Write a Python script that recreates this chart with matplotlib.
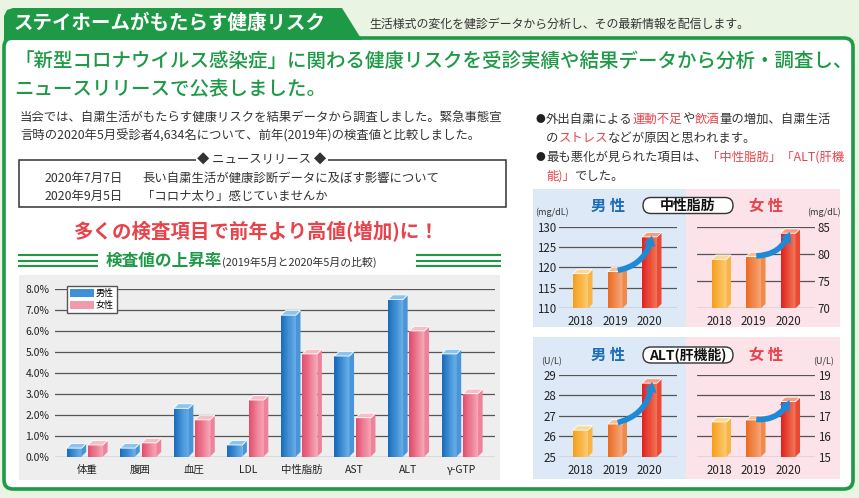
import matplotlib
matplotlib.use('Agg')
import matplotlib.pyplot as plt
import numpy as np
from matplotlib.patches import Polygon, Rectangle, FancyBboxPatch, FancyArrowPatch, Patch
from matplotlib.colors import to_rgb

plt.rcParams['font.family'] = ['Noto Sans CJK JP', 'DejaVu Sans']

W, H = 859, 498

# ---- data ----
items = ['体重', '腹囲', '血圧', 'LDL', '中性脂肪', 'AST', 'ALT', 'γ-GTP']
male_rate = [0.4, 0.4, 2.3, 0.55, 6.75, 4.8, 7.5, 4.9]
female_rate = [0.55, 0.65, 1.75, 2.7, 4.9, 1.85, 6.0, 3.0]
rate_ticks = [0, 1, 2, 3, 4, 5, 6, 7, 8]

years = ['2018', '2019', '2020']
tg_male = [118.5, 119.0, 127.5]
tg_female = [79.0, 79.5, 83.8]
alt_male = [26.3, 26.6, 28.6]
alt_female = [16.7, 16.8, 17.7]
tg_male_ticks = [110, 115, 120, 125, 130]
tg_female_ticks = [70, 75, 80, 85]
alt_male_ticks = [25, 26, 27, 28, 29]
alt_female_ticks = [15, 16, 17, 18, 19]

GREEN = '#1e9a46'
RED = '#e8434a'
TXT = '#333333'

fig = plt.figure(figsize=(W / 100, H / 100), dpi=100, facecolor='#eaf4e3')
bg = fig.add_axes([0, 0, 1, 1])
bg.set_xlim(0, W)
bg.set_ylim(H, 0)
bg.axis('off')
renderer = fig.canvas.get_renderer()


def px_axes(x0, y0, x1, y1):
    a = fig.add_axes([x0 / W, 1 - y1 / H, (x1 - x0) / W, (y1 - y0) / H])
    a.set_facecolor('none')
    for s in a.spines.values():
        s.set_visible(False)
    return a


def mix(c1, c2, t):
    a, b = np.array(to_rgb(c1)), np.array(to_rgb(c2))
    return a + (b - a) * t


def bar3d(ax, x0, h, w, dx, dy, cl, cr, ctop, cside, base=0, n=14):
    for i in range(n):
        ax.add_patch(Rectangle((x0 + w * i / n, base), w / n * 1.05, h - base,
                               color=mix(cl, cr, i / (n - 1)), lw=0, clip_on=False, zorder=3))
    ax.add_patch(Polygon([(x0 + w, base), (x0 + w + dx, base + dy), (x0 + w + dx, h + dy), (x0 + w, h)],
                         closed=True, color=cside, lw=0, clip_on=False, zorder=3))
    ax.add_patch(Polygon([(x0, h), (x0 + w, h), (x0 + w + dx, h + dy), (x0 + dx, h + dy)],
                         closed=True, fc=ctop, ec='white', lw=0.6, clip_on=False, zorder=4))


def runs(x, y, parts, size, weight='normal'):
    for s, c in parts:
        t = bg.text(x, y, s, fontsize=size, color=c, va='center', ha='left', weight=weight)
        x += t.get_window_extent(renderer).width


# ---- header ----
bg.add_patch(FancyBboxPatch((4, 38), 849, 451, boxstyle='round,pad=0,rounding_size=9',
                            fc='white', ec=GREEN, lw=2.6, zorder=1))
bg.add_patch(Polygon([(4, 40), (4, 16), (7, 10), (13, 8), (342, 8), (362, 40)],
                     closed=True, fc=GREEN, ec='none', zorder=2))
bg.text(14, 23, 'ステイホームがもたらす健康リスク', color='white', fontsize=14,
        weight='bold', va='center', zorder=3)
bg.text(369, 24, '生活様式の変化を健診データから分析し、その最新情報を配信します。',
        color=TXT, fontsize=8.6, va='center')

bg.text(14, 62, '「新型コロナウイルス感染症」に関わる健康リスクを受診実績や結果データから分析・調査し、',
        color=GREEN, fontsize=14, va='center', weight='medium', zorder=3)
bg.text(14, 90, 'ニュースリリースで公表しました。', color=GREEN, fontsize=14, va='center',
        weight='medium', zorder=3)

bg.text(20, 117, '当会では、自粛生活がもたらす健康リスクを結果データから調査しました。緊急事態宣',
        color=TXT, fontsize=8.9, va='center', zorder=3)
bg.text(20, 136, '言時の2020年5月受診者4,634名について、前年(2019年)の検査値と比較しました。',
        color=TXT, fontsize=8.9, va='center', zorder=3)

# news box
bg.add_patch(Rectangle((19, 160), 487, 47, fc='none', ec=TXT, lw=1.1, zorder=3))
bg.text(262, 160, '◆ ニュースリリース ◆', color=TXT, fontsize=8.9, ha='center', va='center',
        zorder=4, bbox=dict(fc='white', ec='none', pad=1))
bg.text(45, 178, '2020年7月7日', color=TXT, fontsize=8.9, va='center', zorder=3)
bg.text(142, 178, '長い自粛生活が健康診断データに及ぼす影響について', color=TXT, fontsize=8.9,
        va='center', zorder=3)
bg.text(45, 196, '2020年9月5日', color=TXT, fontsize=8.9, va='center', zorder=3)
bg.text(142, 196, '「コロナ太り」感じていませんか', color=TXT, fontsize=8.9, va='center', zorder=3)

bg.text(257, 232, '多くの検査項目で前年より高値(増加)に！', color=RED, fontsize=14,
        weight='bold', ha='center', va='center', zorder=3)

# sub header with triple lines
for yy in (255, 260.7, 266.4):
    bg.plot([19, 97], [yy, yy], color=GREEN, lw=1.5, zorder=3)
    bg.plot([417, 500], [yy, yy], color=GREEN, lw=1.5, zorder=3)
runs(106, 261, [('検査値の上昇率', GREEN)], 12, weight='bold')
bg.text(222, 262, '(2019年5月と2020年5月の比較)', color=TXT, fontsize=7.8, va='center', zorder=3)

# right column bullets
K = TXT
for yy in (119, 157):
    bg.text(535, yy, '●', color='#222', fontsize=7, va='center', zorder=3)
runs(546, 119, [('外出自粛による', K), ('運動不足', RED), ('や', K), ('飲酒', RED),
                ('量の増加、自粛生活', K)], 8.9)
runs(546, 138, [('の', K), ('ストレス', RED), ('などが原因と思われます。', K)], 8.9)
runs(546, 157, [('最も悪化が見られた項目は、', K), ('「中性脂肪」「ALT(肝機', RED)], 8.9)
runs(546, 176, [('能)」', RED), ('でした。', K)], 8.9)

# ---- main bar chart ----
bg.add_patch(Rectangle((19, 275), 481, 205, fc='#eeeeee', ec='none', zorder=2))
ax = px_axes(55, 289, 495, 456.5)
ax.set_ylim(0, 8)
ax.set_xlim(-0.597, 7.616)
for v in rate_ticks:
    ax.axhline(v, color='#555555', lw=0.9, zorder=1)
ax.set_yticks(rate_ticks)
ax.set_yticklabels([f'{v:.1f}%' for v in rate_ticks], fontsize=7.5, color='#222')
ax.set_xticks(range(len(items)))
ax.set_xticklabels(items, fontsize=7.5, color='#222')
ax.tick_params(length=0, pad=4)
ax.tick_params(axis='x', pad=6)
for i in range(len(items)):
    bar3d(ax, i - 0.38, male_rate[i], 0.28, 0.085, 0.22,
          '#1a6cbd', '#66aee8', '#8cc4f0', '#4a95d8')
    bar3d(ax, i + 0.02, female_rate[i], 0.28, 0.085, 0.22,
          '#e2506f', '#f6a6b5', '#f9bdc8', '#ee8299')
ax.legend(handles=[Patch(fc='#3d90da', ec='none', label='男性'),
                   Patch(fc='#f29aab', ec='none', label='女性')],
          loc='upper left', bbox_to_anchor=(67 / W, 1 - 286 / H), bbox_transform=fig.transFigure,
          fancybox=False, edgecolor='#555', framealpha=1, fontsize=6.5, handlelength=2.6,
          handleheight=1.0, borderpad=0.35, labelspacing=0.25, handletextpad=0.25,
          borderaxespad=0)

# ---- small charts ----
bg.add_patch(Rectangle((533, 189), 153, 138, fc='#dde9f6', ec='none', zorder=2))
bg.add_patch(Rectangle((686, 189), 154, 138, fc='#fbe3e9', ec='none', zorder=2))
bg.add_patch(Rectangle((533, 337), 153, 142, fc='#dde9f6', ec='none', zorder=2))
bg.add_patch(Rectangle((686, 337), 154, 142, fc='#fbe3e9', ec='none', zorder=2))

bar_cols = [('#f5a01a', '#fcc970', '#fdd998', '#f8b545'),
            ('#ec6c20', '#f5a578', '#f9c09c', '#f08a48'),
            ('#e2221e', '#f07454', '#f59c84', '#ea4a35')]


def small_chart(rect, xlim, ylim, ticks, values, right):
    a = px_axes(*rect)
    a.set_xlim(*xlim)
    a.set_ylim(*ylim)
    for v in ticks:
        a.axhline(v, color='#555555', lw=0.9, zorder=1)
    a.set_yticks(ticks)
    a.set_yticklabels([str(v) for v in ticks], fontsize=8.3, color='#222')
    if right:
        a.yaxis.tick_right()
    a.set_xticks(range(len(years)))
    a.set_xticklabels(years, fontsize=8.3, color='#222')
    a.tick_params(length=0, pad=2)
    a.tick_params(axis='x', pad=5)
    span = ylim[1] - ylim[0]
    hpx = (rect[3] - rect[1])
    dy = span / hpx * 4
    for i, v in enumerate(values):
        bar3d(a, i - 0.217, v, 0.435, 0.13, dy * 1.1, *bar_cols[i], base=ylim[0])
    arr = FancyArrowPatch((1.0, values[1] + dy * 0.2), (2.08, values[2] + dy * 1.0),
                          arrowstyle='simple,head_width=9,head_length=7,tail_width=4',
                          connectionstyle='arc3,rad=0.38', color='#1d8ad8', zorder=6,
                          clip_on=False, mutation_scale=1, lw=0)
    a.add_patch(arr)
    return a


small_chart((559, 226.7, 677, 308.3), (-0.623, 2.797), (110, 130), tg_male_ticks, tg_male, False)
small_chart((697, 226.7, 815, 308.3), (-0.638, 2.783), (70, 85), tg_female_ticks, tg_female, True)
small_chart((559, 375, 677, 456.7), (-0.623, 2.797), (25, 29), alt_male_ticks, alt_male, False)
small_chart((697, 375, 815, 456.7), (-0.638, 2.783), (15, 19), alt_female_ticks, alt_female, True)

# small chart headers
for yc, label, unit in ((205.5, '中性脂肪', '(mg/dL)'), (355, 'ALT(肝機能)', '(U/L)')):
    bg.text(608, yc, '男 性', color='#1d6cb8', fontsize=11, weight='bold', ha='center',
            va='center', zorder=3)
    bg.text(766, yc, '女 性', color=RED, fontsize=11, weight='bold', ha='center',
            va='center', zorder=3)
    bg.add_patch(FancyBboxPatch((643, yc - 8), 90, 16, boxstyle='round,pad=0,rounding_size=8',
                                fc='white', ec='#333', lw=1, zorder=3))
    bg.text(688, yc, label, color='#111', fontsize=10, weight='bold', ha='center',
            va='center', zorder=4)
    bg.text(552, yc + 7, unit, color=TXT, fontsize=6.5, ha='center', va='center', zorder=3)
    bg.text(824, yc + 7, unit, color=TXT, fontsize=6.5, ha='center', va='center', zorder=3)

fig.savefig('out.png', dpi=100, facecolor=fig.get_facecolor())
